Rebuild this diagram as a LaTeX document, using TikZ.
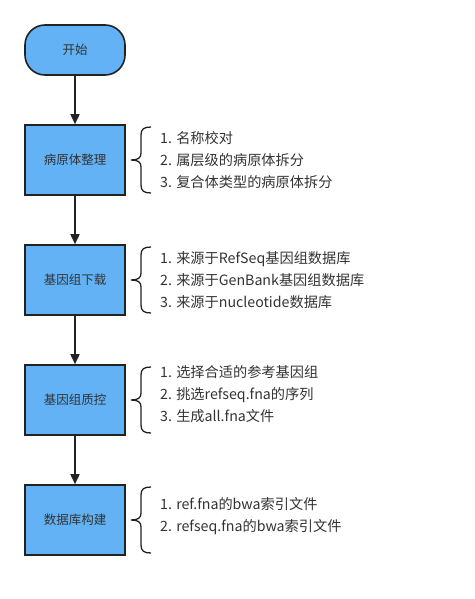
\documentclass[tikz,border=0pt]{standalone}
\usepackage{fontspec}
\setmainfont{Noto Sans CJK SC}
\usetikzlibrary{arrows.meta}
\definecolor{boxfill}{HTML}{62B2F5}
\definecolor{boxline}{HTML}{222222}
\definecolor{txt}{HTML}{333333}
\begin{document}
\begin{tikzpicture}[x=1pt,y=-1pt,
  stepbox/.style={draw=boxline, line width=1.6pt, fill=boxfill, minimum width=100pt, minimum height=70pt, inner sep=0pt, text=txt, font=\fontsize{12.5}{15}\selectfont},
  startbox/.style={draw=boxline, line width=1.6pt, fill=boxfill, minimum width=100pt, minimum height=50pt, rounded corners=20pt, inner sep=0pt, text=txt, font=\fontsize{12.5}{15}\selectfont},
  flow/.style={draw=boxline, line width=1.6pt, -{Triangle[width=9pt,length=10pt]}},
  brace/.style={draw=boxline, line width=1.3pt},
  note/.style={anchor=west, align=left, inner sep=0pt, text=txt, font=\fontsize{14.2}{21.8}\selectfont}]
\useasboundingbox (0,0) rectangle (474,599);
\node[startbox] (start) at (75,50) {开始};
\node[stepbox] (s1) at (75,160) {病原体整理};
\node[stepbox] (s2) at (75,280) {基因组下载};
\node[stepbox] (s3) at (75,400) {基因组质控};
\node[stepbox] (s4) at (75,520) {数据库构建};
\draw[flow] (start) -- (s1);
\draw[flow] (s1) -- (s2);
\draw[flow] (s2) -- (s3);
\draw[flow] (s3) -- (s4);
\foreach \c in {160,280,400,520}{
  \draw[brace] (151,\c-33) .. controls (144,\c-33) and (141,\c-31) .. (141,\c-25) -- (141,\c-7) .. controls (141,\c-2) and (138,\c) .. (131,\c) .. controls (138,\c) and (141,\c+2) .. (141,\c+7) -- (141,\c+25) .. controls (141,\c+31) and (144,\c+33) .. (151,\c+33);
}
\node[note] (n1) at (160,160) {1. 名称校对\\2. 属层级的病原体拆分\\3. 复合体类型的病原体拆分};
\node[note] (n2) at (160,280) {1. 来源于RefSeq基因组数据库\\2. 来源于GenBank基因组数据库\\3. 来源于nucleotide数据库};
\node[note] (n3) at (160,394) {1. 选择合适的参考基因组\\2. 挑选refseq.fna的序列\\3. 生成all.fna文件};
\node[note] (n4) at (160,516) {1. ref.fna的bwa索引文件\\2. refseq.fna的bwa索引文件};
\end{tikzpicture}
\end{document}
